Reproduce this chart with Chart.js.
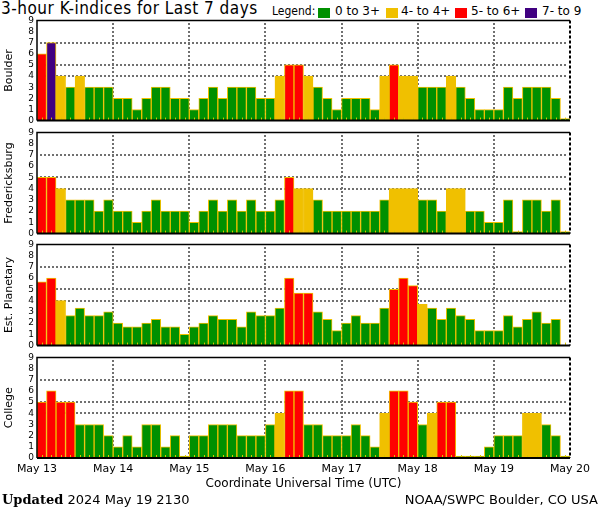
<!DOCTYPE html>
<html>
<head>
<meta charset="utf-8">
<script src="https://cdn.jsdelivr.net/npm/chart.js@4.4.1/dist/chart.umd.min.js"></script>
<style>
body { margin: 0; width: 600px; height: 510px; background: #fff; position: relative; overflow: hidden; font-family: "DejaVu Sans", sans-serif; color: #000; }
canvas { position: absolute; left: 0; }
#title { position: absolute; left: 1px; top: -2px; font-size: 17px; letter-spacing: 0.5px; white-space: nowrap; font-family: "DejaVu Sans Condensed", "DejaVu Sans", sans-serif; }
.lg { position: absolute; top: 4px; font-size: 12px; white-space: nowrap; }
.sw { position: absolute; top: 8px; width: 12px; height: 10px; }
#updated { position: absolute; left: 2px; top: 492px; font-size: 13px; white-space: nowrap; }
#updated b { font-family: "DejaVu Serif", serif; }
#source { position: absolute; right: 2px; top: 492px; font-size: 13px; white-space: nowrap; }
</style>
</head>
<body>
<div id="title">3-hour K-indices for Last 7 days</div>
<div class="lg" style="left:272px;font-family:'DejaVu Sans Condensed','DejaVu Sans',sans-serif">Legend:</div>
<div class="sw" style="left:318px;background:#009000"></div><div class="lg" style="left:335px">0 to 3+</div>
<div class="sw" style="left:386px;background:#f0c000"></div><div class="lg" style="left:401px">4- to 4+</div>
<div class="sw" style="left:455px;background:#ff0000"></div><div class="lg" style="left:471px">5- to 6+</div>
<div class="sw" style="left:525px;background:#400080"></div><div class="lg" style="left:542px">7- to 9</div>
<canvas id="p1" width="600" height="117" style="top:12px"></canvas>
<canvas id="p2" width="600" height="118" style="top:124px"></canvas>
<canvas id="p3" width="600" height="118" style="top:236px"></canvas>
<canvas id="p4" width="600" height="142" style="top:349px"></canvas>
<div id="updated"><b>Updated</b> 2024 May 19 2130</div>
<div id="source">NOAA/SWPC Boulder, CO USA</div>
<script>
// day labels at each 00 UTC boundary
const days = ['May 13', 'May 14', 'May 15', 'May 16', 'May 17', 'May 18', 'May 19', 'May 20'];

// 3-hour K values, 8 per day, May 13 00 UTC onward
const boulder = [6, 7, 4, 3, 4, 3, 3, 3, 2, 2, 1, 2, 3, 3, 2, 2,
    1, 2, 3, 2, 3, 3, 3, 2, 2, 4, 5, 5, 4, 3, 2, 1,
    2, 2, 2, 1, 4, 5, 4, 4, 3, 3, 3, 4, 3, 2, 1, 1,
    1, 3, 2, 3, 3, 3, 2, 0];
const fredericksburg = [5, 5, 4, 3, 3, 3, 2, 3, 2, 2, 1, 2, 3, 2, 2, 2,
    1, 2, 3, 2, 3, 2, 3, 2, 2, 3, 5, 4, 4, 3, 2, 2,
    2, 2, 2, 2, 3, 4, 4, 4, 3, 3, 2, 4, 4, 2, 2, 1,
    1, 3, 0, 3, 3, 2, 3, 0];
const planetary = [5.67, 6, 4, 2.67, 3.33, 2.67, 2.67, 3, 2, 1.67, 1.67, 2, 2.33, 1.67, 1.67, 1,
    1.67, 2, 2.67, 2.33, 2.33, 1.67, 3, 2.67, 2.67, 3.33, 6, 4.67, 4.67, 3, 2.33, 1.33,
    2, 2.67, 2, 2, 3.33, 5, 6, 5.33, 3.67, 3.33, 2.33, 3.33, 2.67, 2.33, 1.33, 1.33,
    1.33, 2.67, 1.67, 2.33, 3, 2, 2.33, null];
const college = [5, 6, 5, 5, 3, 3, 3, 2, 1, 2, 1, 3, 3, 1, 2, 0,
    2, 2, 3, 3, 3, 2, 2, 2, 3, 4, 6, 6, 3, 3, 2, 2,
    2, 3, 2, 1, 4, 6, 6, 5, 3, 4, 5, 5, 0, 0, 0, 1,
    2, 2, 2, 4, 4, 3, 2, 0];
const gridLevels = [4, 5, 7];

function barColor(v) {
    if (v >= 6.5) return '#400080';
    if (v >= 4.5) return '#ff0000';
    if (v >= 3.5) return '#f0c000';
    return '#009000';
}

const framePlugin = {
    id: 'frame',
    // dotted grid at K 4, 5, 7 and at each day boundary, as single dots so it stays crisp
    beforeDatasetsDraw(chart) {
        const ctx = chart.ctx;
        const a = chart.chartArea;
        const xs = chart.scales.x, ys = chart.scales.y;
        ctx.save();
        ctx.fillStyle = '#707070';
        gridLevels.forEach(k => {
            const y = Math.round(ys.getPixelForValue(k));
            for (let x = Math.round(a.left) + 3; x < a.right - 2; x += 4) ctx.fillRect(x, y - 1, 2, 2);
        });
        for (let d = 1; d < days.length - 1; d++) {
            const x = Math.round(xs.getPixelForValue(d * 8));
            for (let y = Math.round(a.top) + 3; y < a.bottom - 2; y += 4) ctx.fillRect(x - 1, y, 2, 2);
        }
        ctx.restore();
    },
    afterDatasetsDraw(chart) {
        const ctx = chart.ctx;
        const a = chart.chartArea;
        // small 3-hour ticks along the bottom
        ctx.save();
        ctx.fillStyle = '#d8c800';
        chart.getDatasetMeta(0).data.forEach(bar => {
            ctx.fillRect(Math.round(bar.x), a.bottom - 3, 1, 3);
        });
        // box round the plot, right side dashed like the original
        ctx.strokeStyle = '#000';
        ctx.lineWidth = 1.5;
        ctx.beginPath();
        ctx.moveTo(a.left, a.bottom);
        ctx.lineTo(a.left, a.top);
        ctx.lineTo(a.right, a.top);
        ctx.stroke();
        ctx.lineWidth = 2;
        ctx.beginPath();
        ctx.moveTo(a.left, a.bottom);
        ctx.lineTo(a.right, a.bottom);
        ctx.stroke();
        ctx.setLineDash([3, 2]);
        ctx.beginPath();
        ctx.moveTo(a.right, a.top);
        ctx.lineTo(a.right, a.bottom);
        ctx.stroke();
        ctx.restore();
    }
};

function makePanel(id, label, values, showX) {
    const ctx = document.getElementById(id).getContext('2d');
    return new Chart(ctx, {
        type: 'bar',
        data: {
            datasets: [{
                data: values.map((v, i) => ({ x: i + 0.5, y: v })),
                backgroundColor: values.map(v => barColor(v)),
                borderColor: '#f0c000',
                borderWidth: 1,
                barPercentage: 1,
                categoryPercentage: 1,
                minBarLength: 2
            }]
        },
        options: {
            responsive: false,
            animation: false,
            devicePixelRatio: 1,
            layout: { padding: { top: 8, right: 30, bottom: showX ? 0 : 8, left: 0 } },
            plugins: { legend: { display: false }, tooltip: { enabled: false } },
            scales: {
                x: {
                    type: 'linear',
                    min: 0,
                    max: 56,
                    offset: false,
                    afterFit: s => { s.height = showX ? 33 : 0; },
                    afterBuildTicks: s => { s.ticks = days.map((d, i) => ({ value: i * 8 })); },
                    ticks: {
                        display: showX,
                        autoSkip: false,
                        maxRotation: 0,
                        padding: 5,
                        color: '#000',
                        font: { family: 'DejaVu Sans', size: 11 },
                        callback: v => days[v / 8]
                    },
                    grid: { display: false, drawTicks: false },
                    border: { display: false },
                    title: {
                        display: showX,
                        text: 'Coordinate Universal Time (UTC)',
                        color: '#000',
                        font: { family: 'DejaVu Sans', size: 12 },
                        padding: { top: 0, bottom: 0 }
                    }
                },
                y: {
                    min: 0,
                    max: 9,
                    afterFit: s => { s.width = 37; },
                    ticks: {
                        stepSize: 1,
                        autoSkip: false,
                        padding: 3,
                        color: '#000',
                        font: { family: 'DejaVu Sans', size: 9 }
                    },
                    grid: { display: false, drawTicks: false },
                    border: { display: false },
                    title: {
                        display: true,
                        text: label,
                        color: '#000',
                        font: { family: 'DejaVu Sans', size: 11 },
                        padding: { top: 3, bottom: 0 }
                    }
                }
            }
        },
        plugins: [framePlugin]
    });
}

makePanel('p1', 'Boulder', boulder, false);
makePanel('p2', 'Fredericksburg', fredericksburg, false);
makePanel('p3', 'Est. Planetary', planetary, false);
makePanel('p4', 'College', college, true);
</script>
</body>
</html>
